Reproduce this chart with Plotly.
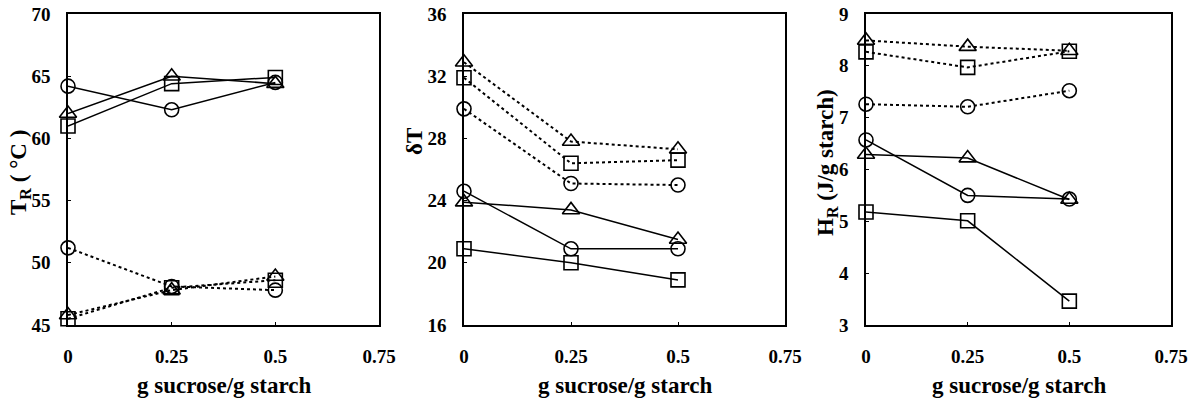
import plotly.graph_objects as go

x = [0, 0.25, 0.5]

# Panel 1: T_R (°C)
tr_solid_circle = [64.2, 62.3, 64.5]
tr_solid_triangle = [62.0, 65.0, 64.4]
tr_solid_square = [61.0, 64.4, 64.9]
tr_dot_circle = [51.2, 48.1, 47.8]
tr_dot_triangle = [45.8, 47.8, 48.9]
tr_dot_square = [45.5, 48.0, 48.6]

# Panel 2: deltaT
dt_solid_circle = [24.6, 20.9, 20.9]
dt_solid_triangle = [23.9, 23.4, 21.5]
dt_solid_square = [20.9, 20.0, 18.9]
dt_dot_circle = [29.9, 25.1, 25.0]
dt_dot_triangle = [32.9, 27.8, 27.3]
dt_dot_square = [31.9, 26.4, 26.6]

# Panel 3: H_R (J/g starch)
hr_solid_circle = [6.57, 5.50, 5.43]
hr_solid_triangle = [6.29, 6.22, 5.42]
hr_solid_square = [5.18, 5.01, 3.46]
hr_dot_circle = [7.26, 7.21, 7.52]
hr_dot_triangle = [8.49, 8.37, 8.29]
hr_dot_square = [8.27, 7.97, 8.28]

x_ticks = [0, 0.25, 0.5, 0.75]
x_ticklabels = ["0", "0.25", "0.5", "0.75"]
y1_ticks = [45, 50, 55, 60, 65, 70]
y2_ticks = [16, 20, 24, 28, 32, 36]
y3_ticks = [3, 4, 5, 6, 7, 8, 9]

W, H = 1195, 401
FONT = "Liberation Serif"

fig = go.Figure()

panels = [
    (1, [tr_solid_circle, tr_solid_triangle, tr_solid_square],
        [tr_dot_circle, tr_dot_triangle, tr_dot_square], [45, 70], y1_ticks),
    (2, [dt_solid_circle, dt_solid_triangle, dt_solid_square],
        [dt_dot_circle, dt_dot_triangle, dt_dot_square], [16, 36], y2_ticks),
    (3, [hr_solid_circle, hr_solid_triangle, hr_solid_square],
        [hr_dot_circle, hr_dot_triangle, hr_dot_square], [3, 9], y3_ticks),
]
symbols = ["circle-open", "triangle-up-open", "square-open"]
sizes = [14, 15, 14]

xdoms = [(68, 379), (464, 785), (866, 1171)]
ytop, ybot = 14, 325

for idx, solid, dotted, yr, yt in panels:
    xa = "x" if idx == 1 else f"x{idx}"
    ya = "y" if idx == 1 else f"y{idx}"
    for series, dash, lw in [(dotted, "3px,3px", 2), (solid, "solid", 1.5)]:
        for s, sym, sz in zip(series, symbols, sizes):
            fig.add_trace(go.Scatter(
                x=x, y=s, xaxis=xa, yaxis=ya, mode="lines+markers",
                line=dict(color="black", width=lw, dash=dash),
                marker=dict(symbol=sym, size=sz, color="black",
                            line=dict(color="black", width=1.6)),
                cliponaxis=False, showlegend=False))
    d = xdoms[idx - 1]
    axis_common = dict(showline=True, linecolor="black", linewidth=1.5, mirror=True,
                       showgrid=False, zeroline=False, ticks="inside", ticklen=3,
                       tickcolor="black", automargin=False,
                       tickfont=dict(family=FONT, size=19, color="black", weight="bold"))
    fig.layout[("xaxis" if idx == 1 else f"xaxis{idx}")] = dict(
        domain=[d[0] / W, d[1] / W], range=[0, 0.75], tickvals=x_ticks,
        ticktext=x_ticklabels, anchor=ya, ticklabelstandoff=13, **axis_common)
    fig.layout[("yaxis" if idx == 1 else f"yaxis{idx}")] = dict(
        domain=[1 - ybot / H, 1 - ytop / H], range=yr, tickvals=yt,
        anchor=xa, ticklabelstandoff=12, **axis_common)

# x titles
for d in xdoms:
    fig.add_annotation(x=(d[0] + d[1]) / 2 / W, y=1 - 385 / H, xref="paper", yref="paper",
                       text="g sucrose/g starch", showarrow=False,
                       font=dict(family=FONT, size=23, color="black", weight="bold"),
                       xanchor="center", yanchor="middle")

# y titles
ytitles = [
    ("T<sub>R</sub> ( °C )", 20, 173),
    ("δT", 415, 142),
    ("H<sub>R</sub> (J/g starch)", 827, 163),
]
for txt, px, py in ytitles:
    fig.add_annotation(x=px / W, y=1 - py / H, xref="paper", yref="paper",
                       text=txt, showarrow=False, textangle=-90,
                       font=dict(family=FONT, size=23, color="black", weight="bold"),
                       xanchor="center", yanchor="middle")

fig.update_layout(width=W, height=H, margin=dict(l=0, r=0, t=0, b=0, autoexpand=False),
                  plot_bgcolor="white", paper_bgcolor="white")

fig.write_html("out.html")
